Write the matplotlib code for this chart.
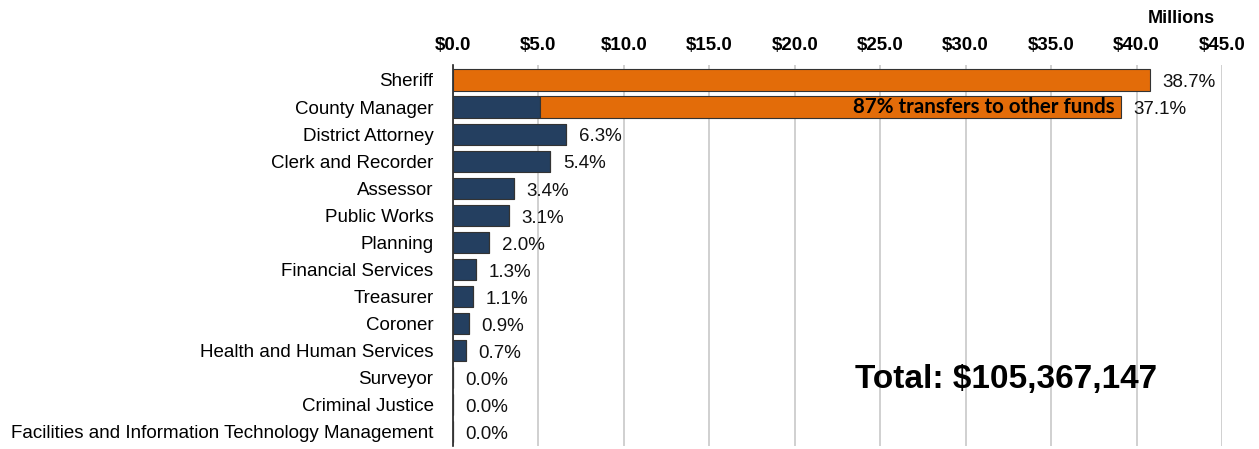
import matplotlib
matplotlib.use('agg')
from matplotlib import pyplot as plt
from matplotlib.ticker import MultipleLocator, FuncFormatter

# spending by department, millions of dollars
departments = ["Sheriff", "County Manager", "District Attorney", "Clerk and Recorder",
               "Assessor", "Public Works", "Planning", "Financial Services", "Treasurer",
               "Coroner", "Health and Human Services", "Surveyor", "Criminal Justice",
               "Facilities and Information Technology Management"]
base_spend = [0.0, 5.08, 6.64, 5.69, 3.58, 3.27, 2.11, 1.37, 1.16, 0.95, 0.74, 0.0, 0.0, 0.0]
orange_spend = [40.78, 34.01, 0, 0, 0, 0, 0, 0, 0, 0, 0, 0, 0, 0]
pct_labels = ["38.7%", "37.1%", "6.3%", "5.4%", "3.4%", "3.1%", "2.0%", "1.3%", "1.1%",
              "0.9%", "0.7%", "0.0%", "0.0%", "0.0%"]
transfer_note = "87% transfers to other funds"
total_text = "Total: $105,367,147"

NAVY = '#243f60'
ORANGE = '#e36c09'
plt.rcParams['font.family'] = ['Liberation Sans', 'DejaVu Sans']

fig = plt.figure(figsize=(12.59, 4.49), dpi=100)
ax = fig.add_axes([0.3598, 0.007, 0.6108, 0.848])

ypos = list(range(len(departments)))
ax.barh(ypos, base_spend, height=0.78, color=NAVY, edgecolor='#333333', linewidth=0.8, zorder=3)
ax.barh(ypos, orange_spend, left=base_spend, height=0.78, color=ORANGE,
        edgecolor='#333333', linewidth=0.8, zorder=3)

# percent labels just past the end of each bar
for y, b, o, lab in zip(ypos, base_spend, orange_spend, pct_labels):
    ax.annotate(lab, (b + o, y), xytext=(9, -2), textcoords='offset points',
                ha='left', va='center', fontsize=13.5, color='#111111')

ax.text(base_spend[1] + orange_spend[1] - 0.35, 1, transfer_note, ha='right', va='center',
        fontsize=14.8, fontweight='bold', family=['Lato', 'DejaVu Sans'], zorder=4)

ax.text(23.5, 11.05, total_text, ha='left', va='center', fontsize=24, fontweight='bold')

ax.set_xlim(0, 45)
ax.set_ylim(13.52, -0.55)
ax.xaxis.set_major_locator(MultipleLocator(5))
ax.xaxis.set_major_formatter(FuncFormatter(lambda v, p: "${0:.1f}".format(v)))
ax.xaxis.tick_top()
ax.tick_params(axis='x', length=0, pad=8, labelsize=13.5)
for t in ax.get_xticklabels():
    t.set_fontweight('bold')
ax.set_yticks(ypos)
ax.set_yticklabels(departments, fontsize=13.5)
ax.tick_params(axis='y', length=0, pad=14)

ax.grid(axis='x', color='#c8c8c8', linewidth=1.2, zorder=0)
for s in ('top', 'right', 'bottom'):
    ax.spines[s].set_visible(False)
ax.spines['left'].set_color('#222222')
ax.spines['left'].set_linewidth(1.2)

fig.text(0.965, 0.958, "Millions", ha='right', va='center', fontsize=13, fontweight='bold')

plt.savefig('out.png')
